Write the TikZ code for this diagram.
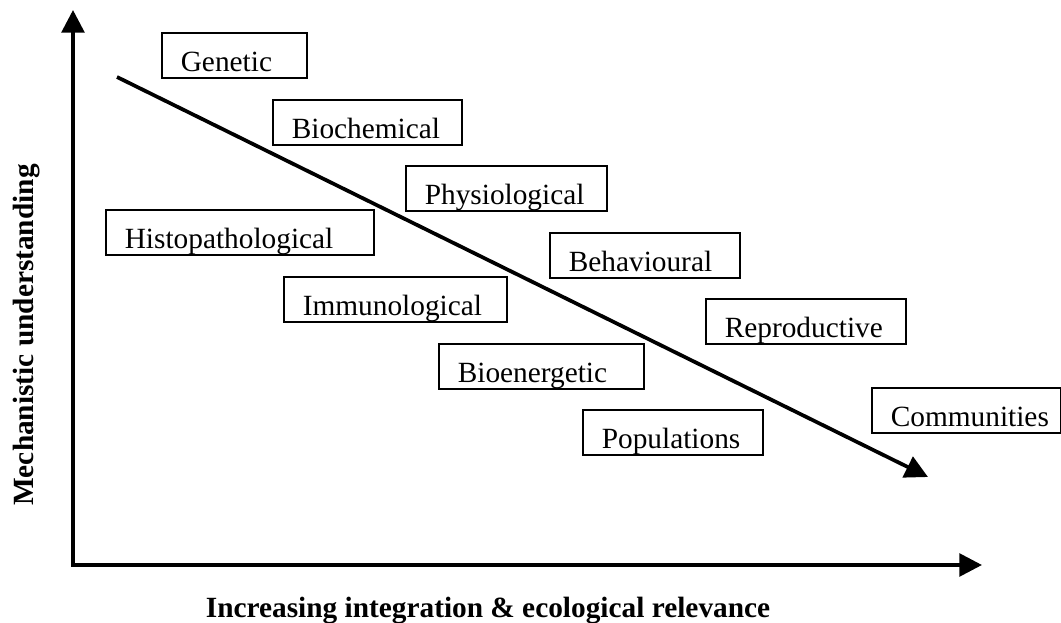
\documentclass[tikz,border=0pt]{standalone}
\usepackage{fontspec}
\setmainfont{Liberation Serif}
\usepackage{tikz}
\usetikzlibrary{arrows.meta}

\begin{document}
\begin{tikzpicture}[
    x=0.75pt, y=-0.75pt,
    lvl/.style={draw, line width=1.2pt, anchor=north west, inner xsep=0pt, inner ysep=0pt,
      text width=#1, align=left, text height=29.25pt, text depth=4.5pt,
      font=\fontsize{22}{26}\selectfont, execute at begin node={\noindent\hspace*{14.25pt}}},
    axis/.style={line width=2.8pt, -{Triangle[length=17pt,width=17pt]}},
    lbl/.style={font=\fontsize{22}{26}\selectfont\bfseries, anchor=base, inner sep=0pt}
  ]
  \useasboundingbox (0,0) rectangle (1061,623);

  \node[lvl=108.75pt] (genetic) at (161,32) {Genetic};
  \node[lvl=141.75pt] (biochem) at (272,99) {Biochemical};
  \node[lvl=150.75pt] (physio) at (405,165) {Physiological};
  \node[lvl=201pt] (histo) at (105,209) {Histopathological};
  \node[lvl=142.5pt] (behav) at (549,232) {Behavioural};
  \node[lvl=167.25pt] (immuno) at (283,276) {Immunological};
  \node[lvl=150pt] (repro) at (705,298) {Reproductive};
  \node[lvl=153.75pt] (bioen) at (438,343) {Bioenergetic};
  \node[lvl=141.75pt] (commun) at (871,387) {Communities};
  \node[lvl=135pt] (popul) at (582,409) {Populations};

  \coordinate (origin) at (73,565);
  \coordinate (ytop) at (73,10);
  \coordinate (xend) at (982,565);
  \draw[axis, {Triangle[length=17pt,width=17pt]}-{Triangle[length=17pt,width=17pt]}]
    (ytop) -- (origin) -- (xend);

  \coordinate (trendstart) at (117,77);
  \coordinate (trendend) at (928,477);
  \draw[axis] (trendstart) -- (trendend);

  \node[lbl] (xlabel) at (488,617) {Increasing integration \& ecological relevance};
  \node[lbl, rotate=90] (ylabel) at (33,335) {Mechanistic understanding};
\end{tikzpicture}
\end{document}
